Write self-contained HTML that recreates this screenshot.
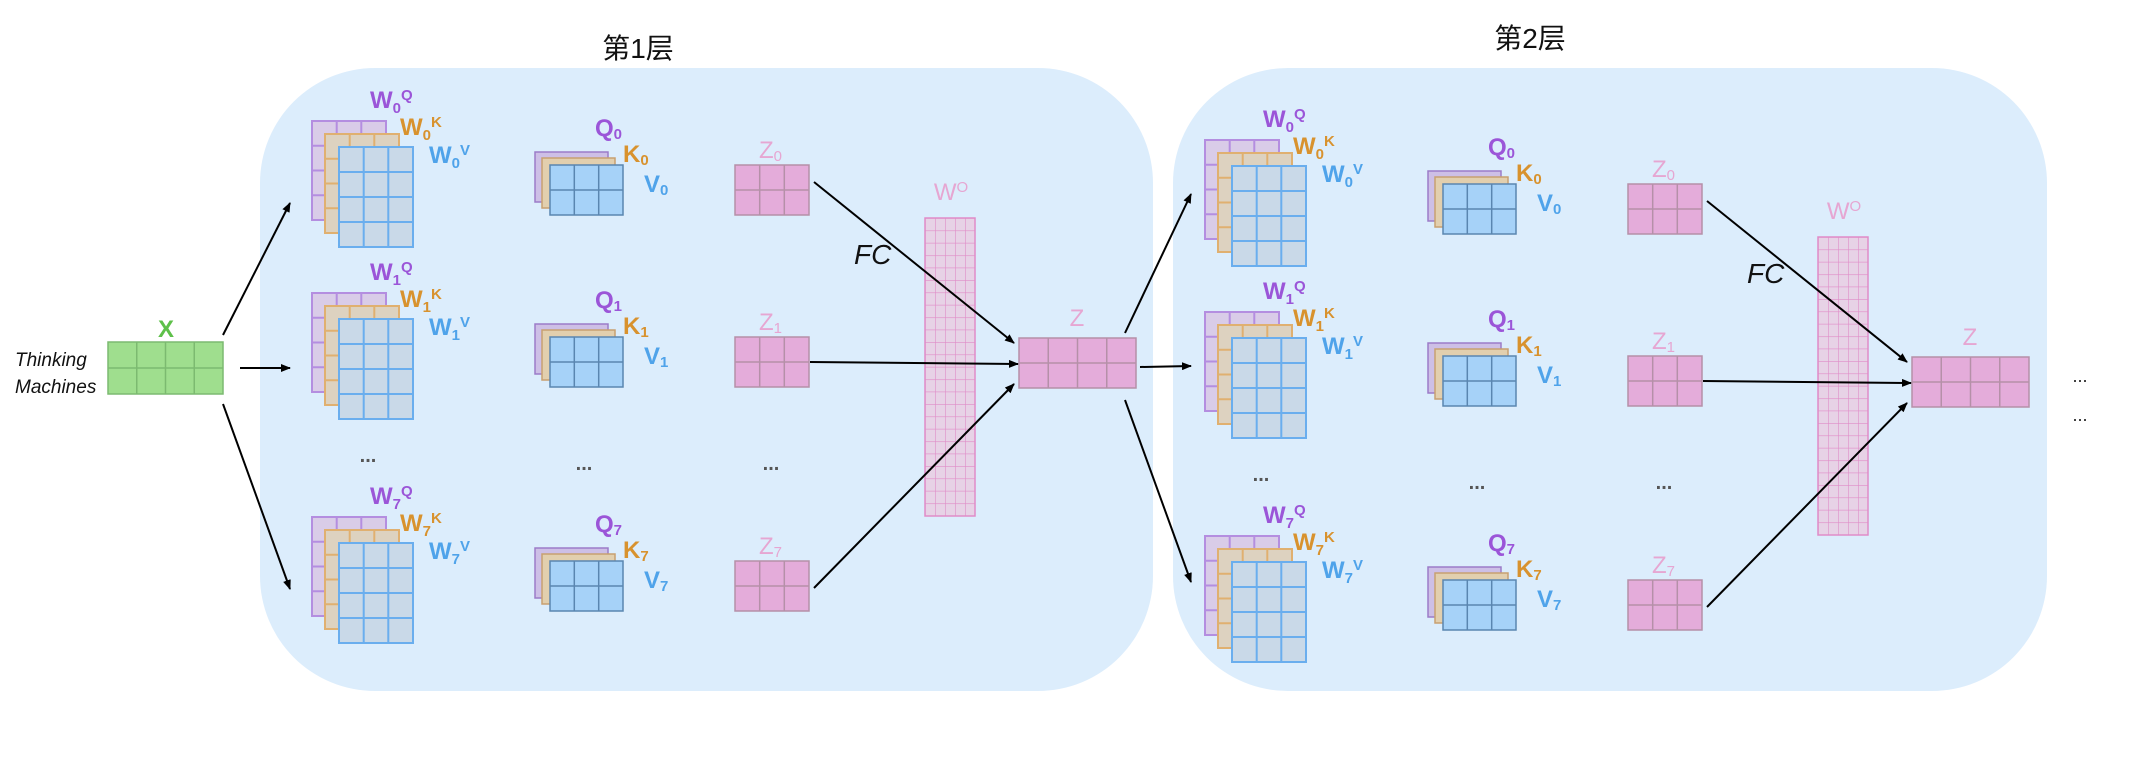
<!DOCTYPE html>
<html><head><meta charset="utf-8"><style>
html,body{margin:0;padding:0;background:#fff;}
svg{display:block;}
text{font-family:"Liberation Sans","Noto Sans CJK SC",sans-serif;}
.lw{font-weight:bold;font-size:24px;}
.p{fill:#9b55d8}.o{fill:#d8922e}.b{fill:#4fa3ea}.z{fill:#e6a6d2}
.dots{font-size:20px;fill:#555;font-weight:bold}
</style></head><body>
<svg width="2146" height="763" viewBox="0 0 2146 763" xmlns="http://www.w3.org/2000/svg">
<defs>
<marker id="ar" markerWidth="10" markerHeight="8" refX="9" refY="4" orient="auto" markerUnits="userSpaceOnUse"><path d="M0,0 L10,4 L0,8 z" fill="#000"/></marker>
<g id="wst">
 <rect x="0" y="0" width="74" height="99" fill="#d9cce8" stroke="#b48ee0" stroke-width="2"/>
 <path d="M24.7,0V99M49.3,0V99M0,24.75H74M0,49.5H74M0,74.25H74" stroke="#b48ee0" stroke-width="2"/>
 <rect x="13" y="13" width="74" height="99" fill="#ddd2c0" stroke="#e0b070" stroke-width="2"/>
 <path d="M37.7,13V112M62.3,13V112M13,37.75H87M13,62.5H87M13,87.25H87" stroke="#e0b070" stroke-width="2"/>
 <rect x="27" y="26" width="74" height="100" fill="#c9d9e8" stroke="#6aaeee" stroke-width="2"/>
 <path d="M51.7,26V126M76.3,26V126M27,51H101M27,76H101M27,101H101" stroke="#6aaeee" stroke-width="2"/>
</g>
<g id="qst">
 <rect x="0" y="0" width="73" height="50" fill="#cdbfe6" stroke="#9b7cc8" stroke-width="1.5"/>
 <rect x="7" y="6" width="73" height="50" fill="#e2cfae" stroke="#c8a070" stroke-width="1.5"/>
 <rect x="15" y="13" width="73" height="50" fill="#a6d2f8" stroke="#5a86b0" stroke-width="1.5"/>
 <path d="M39.3,13V63M63.7,13V63M15,38H88" stroke="#5a86b0" stroke-width="1.5"/>
</g>
<g id="zb">
 <rect x="0" y="0" width="74" height="50" fill="#e4acda" stroke="#b590a8" stroke-width="1.5"/>
 <path d="M24.7,0V50M49.3,0V50M0,25H74" stroke="#b590a8" stroke-width="1.5"/>
</g>
<pattern id="wop" x="925" y="218" width="10" height="12.4" patternUnits="userSpaceOnUse">
 <rect width="10" height="12.4" fill="#e7d2e6"/>
 <path d="M0,0H10M0,0V12.4" stroke="#e08cc8" stroke-width="1.2"/>
</pattern>
<g id="wo">
 <rect x="925" y="218" width="50" height="298" fill="url(#wop)" stroke="#e08cc8" stroke-width="1.5"/>
</g>
<g id="zbig">
 <rect x="1019" y="338" width="117" height="50" fill="#e4acda" stroke="#b590a8" stroke-width="1.5"/>
 <path d="M1048.25,338V388M1077.5,338V388M1106.75,338V388M1019,363H1136" stroke="#b590a8" stroke-width="1.5"/>
</g>
</defs>

<!-- panels -->
<rect x="260" y="68" width="893" height="623" rx="115" fill="#dcedfc"/>
<rect x="1173" y="68" width="874" height="623" rx="115" fill="#dcedfc"/>

<text x="638" y="58" font-size="28" text-anchor="middle" fill="#111" font-family="'Noto Serif CJK SC',serif">第1层</text>
<text x="1530" y="48" font-size="28" text-anchor="middle" fill="#111" font-family="'Noto Serif CJK SC',serif">第2层</text>

<!-- X -->
<rect x="108" y="342" width="115" height="52" fill="#9fde8e" stroke="#7cba70" stroke-width="1.5"/>
<path d="M136.75,342V394M165.5,342V394M194.25,342V394M108,368H223" stroke="#7cba70" stroke-width="1.5"/>
<text x="166" y="337" class="lw" fill="#5ec04a" text-anchor="middle">X</text>
<text x="15" y="366" font-size="19" fill="#111" font-style="italic">Thinking</text>
<text x="15" y="393" font-size="19" fill="#111" font-style="italic">Machines</text>

<g stroke="#000" stroke-width="2" marker-end="url(#ar)">
<line x1="223" y1="335" x2="290" y2="203"/>
<line x1="240" y1="368" x2="290" y2="368"/>
<line x1="223" y1="404" x2="290" y2="589"/>
<line x1="1125" y1="333" x2="1191" y2="194"/>
<line x1="1140" y1="367" x2="1191" y2="366"/>
<line x1="1125" y1="400" x2="1191" y2="582"/>
</g>

<!-- LAYER 1 -->
<g>
 <use href="#wo"/>
 <text x="951" y="200" font-size="24" class="z" text-anchor="middle">W<tspan font-size="15" dy="-8">O</tspan></text>
 <use href="#zbig"/>
 <text x="1077" y="326" font-size="24" class="z" text-anchor="middle">Z</text>
 <g transform="translate(0,0)">
  <use href="#wst" x="312" y="121"/><use href="#qst" x="535" y="152"/><use href="#zb" x="735" y="165"/>
  <text x="370" y="108" class="lw p">W<tspan font-size="15" dy="5">0</tspan><tspan font-size="15" dy="-13">Q</tspan></text>
  <text x="400" y="135" class="lw o">W<tspan font-size="15" dy="5">0</tspan><tspan font-size="15" dy="-13">K</tspan></text>
  <text x="429" y="163" class="lw b">W<tspan font-size="15" dy="5">0</tspan><tspan font-size="15" dy="-13">V</tspan></text>
  <text x="595" y="136" class="lw p">Q<tspan font-size="15" dy="3">0</tspan></text>
  <text x="623" y="162" class="lw o">K<tspan font-size="15" dy="3">0</tspan></text>
  <text x="644" y="192" class="lw b">V<tspan font-size="15" dy="3">0</tspan></text>
  <text x="759" y="158" font-size="24" class="z">Z<tspan font-size="15" dy="3">0</tspan></text>
 </g>
 <g transform="translate(0,172)">
  <use href="#wst" x="312" y="121"/><use href="#qst" x="535" y="152"/><use href="#zb" x="735" y="165"/>
  <text x="370" y="108" class="lw p">W<tspan font-size="15" dy="5">1</tspan><tspan font-size="15" dy="-13">Q</tspan></text>
  <text x="400" y="135" class="lw o">W<tspan font-size="15" dy="5">1</tspan><tspan font-size="15" dy="-13">K</tspan></text>
  <text x="429" y="163" class="lw b">W<tspan font-size="15" dy="5">1</tspan><tspan font-size="15" dy="-13">V</tspan></text>
  <text x="595" y="136" class="lw p">Q<tspan font-size="15" dy="3">1</tspan></text>
  <text x="623" y="162" class="lw o">K<tspan font-size="15" dy="3">1</tspan></text>
  <text x="644" y="192" class="lw b">V<tspan font-size="15" dy="3">1</tspan></text>
  <text x="759" y="158" font-size="24" class="z">Z<tspan font-size="15" dy="3">1</tspan></text>
 </g>
 <g transform="translate(0,396)">
  <use href="#wst" x="312" y="121"/><use href="#qst" x="535" y="152"/><use href="#zb" x="735" y="165"/>
  <text x="370" y="108" class="lw p">W<tspan font-size="15" dy="5">7</tspan><tspan font-size="15" dy="-13">Q</tspan></text>
  <text x="400" y="135" class="lw o">W<tspan font-size="15" dy="5">7</tspan><tspan font-size="15" dy="-13">K</tspan></text>
  <text x="429" y="163" class="lw b">W<tspan font-size="15" dy="5">7</tspan><tspan font-size="15" dy="-13">V</tspan></text>
  <text x="595" y="136" class="lw p">Q<tspan font-size="15" dy="3">7</tspan></text>
  <text x="623" y="162" class="lw o">K<tspan font-size="15" dy="3">7</tspan></text>
  <text x="644" y="192" class="lw b">V<tspan font-size="15" dy="3">7</tspan></text>
  <text x="759" y="158" font-size="24" class="z">Z<tspan font-size="15" dy="3">7</tspan></text>
 </g>
 <text x="368" y="462" class="dots" text-anchor="middle">...</text>
 <text x="584" y="470" class="dots" text-anchor="middle">...</text>
 <text x="771" y="470" class="dots" text-anchor="middle">...</text>
 <text x="854" y="264" font-size="28" font-style="italic" fill="#111">FC</text>
 <g stroke="#000" stroke-width="2" marker-end="url(#ar)">
  <line x1="814" y1="182" x2="1014" y2="343"/>
  <line x1="810" y1="362" x2="1018" y2="364"/>
  <line x1="814" y1="588" x2="1014" y2="384"/>
 </g>
</g>

<!-- LAYER 2 -->
<g transform="translate(893,19)">
 <use href="#wo"/>
 <text x="951" y="200" font-size="24" class="z" text-anchor="middle">W<tspan font-size="15" dy="-8">O</tspan></text>
 <use href="#zbig"/>
 <text x="1077" y="326" font-size="24" class="z" text-anchor="middle">Z</text>
 <g transform="translate(0,0)">
  <use href="#wst" x="312" y="121"/><use href="#qst" x="535" y="152"/><use href="#zb" x="735" y="165"/>
  <text x="370" y="108" class="lw p">W<tspan font-size="15" dy="5">0</tspan><tspan font-size="15" dy="-13">Q</tspan></text>
  <text x="400" y="135" class="lw o">W<tspan font-size="15" dy="5">0</tspan><tspan font-size="15" dy="-13">K</tspan></text>
  <text x="429" y="163" class="lw b">W<tspan font-size="15" dy="5">0</tspan><tspan font-size="15" dy="-13">V</tspan></text>
  <text x="595" y="136" class="lw p">Q<tspan font-size="15" dy="3">0</tspan></text>
  <text x="623" y="162" class="lw o">K<tspan font-size="15" dy="3">0</tspan></text>
  <text x="644" y="192" class="lw b">V<tspan font-size="15" dy="3">0</tspan></text>
  <text x="759" y="158" font-size="24" class="z">Z<tspan font-size="15" dy="3">0</tspan></text>
 </g>
 <g transform="translate(0,172)">
  <use href="#wst" x="312" y="121"/><use href="#qst" x="535" y="152"/><use href="#zb" x="735" y="165"/>
  <text x="370" y="108" class="lw p">W<tspan font-size="15" dy="5">1</tspan><tspan font-size="15" dy="-13">Q</tspan></text>
  <text x="400" y="135" class="lw o">W<tspan font-size="15" dy="5">1</tspan><tspan font-size="15" dy="-13">K</tspan></text>
  <text x="429" y="163" class="lw b">W<tspan font-size="15" dy="5">1</tspan><tspan font-size="15" dy="-13">V</tspan></text>
  <text x="595" y="136" class="lw p">Q<tspan font-size="15" dy="3">1</tspan></text>
  <text x="623" y="162" class="lw o">K<tspan font-size="15" dy="3">1</tspan></text>
  <text x="644" y="192" class="lw b">V<tspan font-size="15" dy="3">1</tspan></text>
  <text x="759" y="158" font-size="24" class="z">Z<tspan font-size="15" dy="3">1</tspan></text>
 </g>
 <g transform="translate(0,396)">
  <use href="#wst" x="312" y="121"/><use href="#qst" x="535" y="152"/><use href="#zb" x="735" y="165"/>
  <text x="370" y="108" class="lw p">W<tspan font-size="15" dy="5">7</tspan><tspan font-size="15" dy="-13">Q</tspan></text>
  <text x="400" y="135" class="lw o">W<tspan font-size="15" dy="5">7</tspan><tspan font-size="15" dy="-13">K</tspan></text>
  <text x="429" y="163" class="lw b">W<tspan font-size="15" dy="5">7</tspan><tspan font-size="15" dy="-13">V</tspan></text>
  <text x="595" y="136" class="lw p">Q<tspan font-size="15" dy="3">7</tspan></text>
  <text x="623" y="162" class="lw o">K<tspan font-size="15" dy="3">7</tspan></text>
  <text x="644" y="192" class="lw b">V<tspan font-size="15" dy="3">7</tspan></text>
  <text x="759" y="158" font-size="24" class="z">Z<tspan font-size="15" dy="3">7</tspan></text>
 </g>
 <text x="368" y="462" class="dots" text-anchor="middle">...</text>
 <text x="584" y="470" class="dots" text-anchor="middle">...</text>
 <text x="771" y="470" class="dots" text-anchor="middle">...</text>
 <text x="854" y="264" font-size="28" font-style="italic" fill="#111">FC</text>
 <g stroke="#000" stroke-width="2" marker-end="url(#ar)">
  <line x1="814" y1="182" x2="1014" y2="343"/>
  <line x1="810" y1="362" x2="1018" y2="364"/>
  <line x1="814" y1="588" x2="1014" y2="384"/>
 </g>
</g>

<text x="2080" y="382" font-size="18" fill="#222" text-anchor="middle">...</text>
<text x="2080" y="421" font-size="18" fill="#222" text-anchor="middle">...</text>
</svg>
</body></html>
